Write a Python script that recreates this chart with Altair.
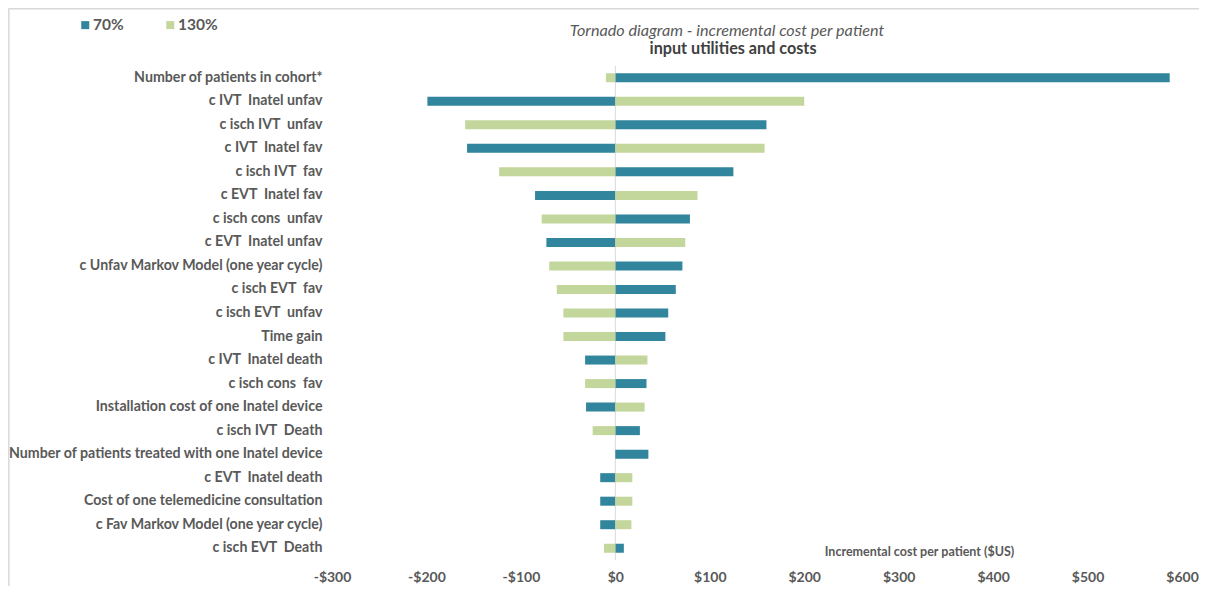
import altair as alt
import pandas as pd

NB = " \u00a0"  # keeps the double spaces of the original labels visible

params = [
    "Number of patients in cohort*",
    "c IVT  Inatel unfav",
    "c isch IVT  unfav",
    "c IVT  Inatel fav",
    "c isch IVT  fav",
    "c EVT  Inatel fav",
    "c isch cons  unfav",
    "c EVT  Inatel unfav",
    "c Unfav Markov Model (one year cycle)",
    "c isch EVT  fav",
    "c isch EVT  unfav",
    "Time gain",
    "c IVT  Inatel death",
    "c isch cons  fav",
    "Installation cost of one Inatel device",
    "c isch IVT  Death",
    "Number of patients treated with one Inatel device",
    "c EVT  Inatel death",
    "Cost of one telemedicine consultation",
    "c Fav Markov Model (one year cycle)",
    "c isch EVT  Death",
]
low_70 = [587, -199, 160, -157, 125, -85, 79, -73, 71, 64, 56, 53, -32, 33, -31, 26, 35, -16, -16, -16, 9]
high_130 = [-10, 200, -159, 158, -123, 87, -78, 74, -70, -62, -55, -55, 34, -32, 31, -24, 0, 18, 18, 17, -12]
series = ["70%", "130%"]
colors = ["#31859C", "#C3D69B"]
x_ticks = [-300, -200, -100, 0, 100, 200, 300, 400, 500, 600]
title_text = "Tornado diagram - incremental cost per patient"
subtitle_text = "input utilities and costs"

labels = [p.replace("  ", NB) for p in params]
rows = []
for lab, a, b in zip(labels, low_70, high_130):
    rows.append({"param": lab, "series": series[0], "value": a})
    rows.append({"param": lab, "series": series[1], "value": b})
df = pd.DataFrame(rows)

FONT = "Lato"
GRAY = "#595959"
W, H = 850, 494
PL, PT, PR, PB = 324, 58, 17, 26

xscale = alt.Scale(domain=[-300, 600], nice=False, zero=False)

bars = alt.Chart(df).mark_bar(size=9).encode(
    y=alt.Y("param:N", sort=labels, title=None,
            axis=alt.Axis(domain=False, ticks=False, labelPadding=10, labelLimit=500,
                          labelFont=FONT, labelFontSize=14.2, labelFontWeight="bold",
                          labelColor=GRAY)),
    x=alt.X("value:Q", scale=xscale,
            title="Incremental cost per patient ($US)",
            axis=alt.Axis(values=x_ticks, domain=False, ticks=False, grid=False,
                          labelFlush=False, labelOffset=0,
                          labelExpr="datum.value < 0 ? '-$' + abs(datum.value) : '$' + datum.value",
                          labelFont=FONT, labelFontSize=14, labelFontWeight="bold",
                          labelColor=GRAY, labelPadding=10,
                          titleFont=FONT, titleFontSize=12.5, titleFontWeight="bold",
                          titleColor=GRAY, titleX=587, titleY=-9,
                          titleAlign="center", titleBaseline="middle")),
    color=alt.Color("series:N", sort=series,
                    scale=alt.Scale(domain=series, range=colors),
                    legend=alt.Legend(title=None, orient="none", legendX=-254.5, legendY=-49,
                                      direction="horizontal", symbolType="square",
                                      symbolSize=64, symbolStrokeWidth=0, labelOffset=0,
                                      labelFont=FONT, labelFontSize=15.5, labelFontWeight="bold",
                                      labelColor=GRAY, columnPadding=38, symbolOpacity=1)),
)

one = pd.DataFrame({"z": [0]})

zero = alt.Chart(one).mark_rule(color="#D9D9D9", strokeWidth=1).encode(
    x=alt.X("z:Q", scale=xscale)
)

top_line = alt.Chart(one).mark_rule(color="#D9D9D9", strokeWidth=1.5).encode(
    x=alt.value(-PL + 0.5), x2=alt.value(W + PR), y=alt.value(-PT + 0.8), y2=alt.value(-PT + 0.8)
)
left_line = alt.Chart(one).mark_rule(color="#D9D9D9", strokeWidth=1.5).encode(
    x=alt.value(-PL + 0.8), x2=alt.value(-PL + 0.8), y=alt.value(-PT + 0.5), y2=alt.value(H + PB)
)

title = alt.Chart(one).mark_text(
    font=FONT, fontSize=16.2, fontStyle="italic", color=GRAY, align="center", baseline="middle"
).encode(x=alt.value(395), y=alt.value(-35), text=alt.value(title_text))

subtitle = alt.Chart(one).mark_text(
    font=FONT, fontSize=16.2, fontWeight="bold", color="#404040", align="center", baseline="middle"
).encode(x=alt.value(401), y=alt.value(-17), text=alt.value(subtitle_text))

chart = alt.layer(top_line, left_line, zero, bars, title, subtitle).properties(
    width=W,
    height=H,
    autosize=alt.AutoSizeParams(type="none"),
    padding={"left": PL, "top": PT, "right": PR, "bottom": PB},
).configure_view(stroke=None)

chart.save("out.html", embed_options={"renderer": "svg", "actions": False})
